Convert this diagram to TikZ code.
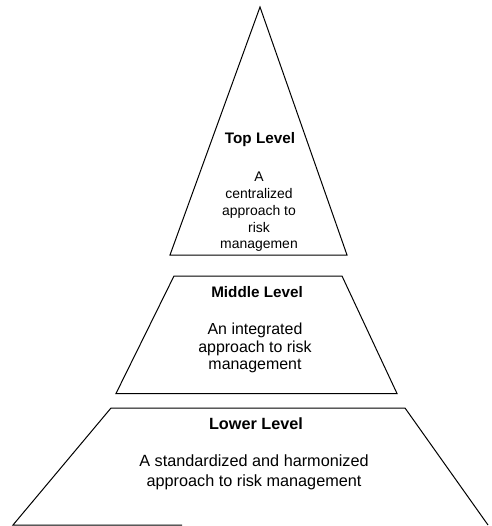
\documentclass[tikz,border=0pt]{standalone}
\usepackage{fontspec}
\setmainfont{Liberation Sans}
\begin{document}
\begin{tikzpicture}[x=1bp,y=-1bp,
  outline/.style={draw=black,line width=1bp,line join=miter},
  title/.style={font=\fontsize{15.3}{16}\selectfont\bfseries,inner sep=0pt},
  body/.style={align=center,inner sep=0pt},
]
\useasboundingbox[fill=white] (0,0) rectangle (492,526);

% tiers of the pyramid
\coordinate (apex) at (260,7);
\coordinate (tl) at (170,255);
\coordinate (tr) at (347,255);
\draw[outline] (apex) -- (tr) -- (tl) -- cycle;

\coordinate (m1) at (174,276);
\coordinate (m2) at (342,276);
\coordinate (m3) at (397,393.5);
\coordinate (m4) at (116,393.5);
\draw[outline] (m1) -- (m2) -- (m3) -- (m4) -- cycle;

\coordinate (b1) at (111,408);
\coordinate (b2) at (405,408);
\coordinate (b3) at (488,525);
\coordinate (b4) at (13,525);
\coordinate (b5) at (182,525);
\draw[outline] (b5) -- (b4) -- (b1) -- (b2) -- (b3);

% labels
\node[title] (toptitle) at (260,139.5) {Top Level};
\node[body,font=\fontsize{14}{16.8}\selectfont] (toptext) at (259,212)
  {A\\centralized\\approach to\\risk\\managemen};

\node[title] (midtitle) at (257,292.5) {Middle Level};
\node[body,font=\fontsize{16}{17.5}\selectfont] (midtext) at (255,348)
  {An integrated\\approach to risk\\management};

\node[title,font=\fontsize{16.3}{17}\selectfont\bfseries] (lowtitle) at (256,424) {Lower Level};
\node[body,font=\fontsize{16.3}{20}\selectfont] (lowtext) at (254,472.5)
  {A standardized and harmonized\\approach to risk management};
\end{tikzpicture}
\end{document}
